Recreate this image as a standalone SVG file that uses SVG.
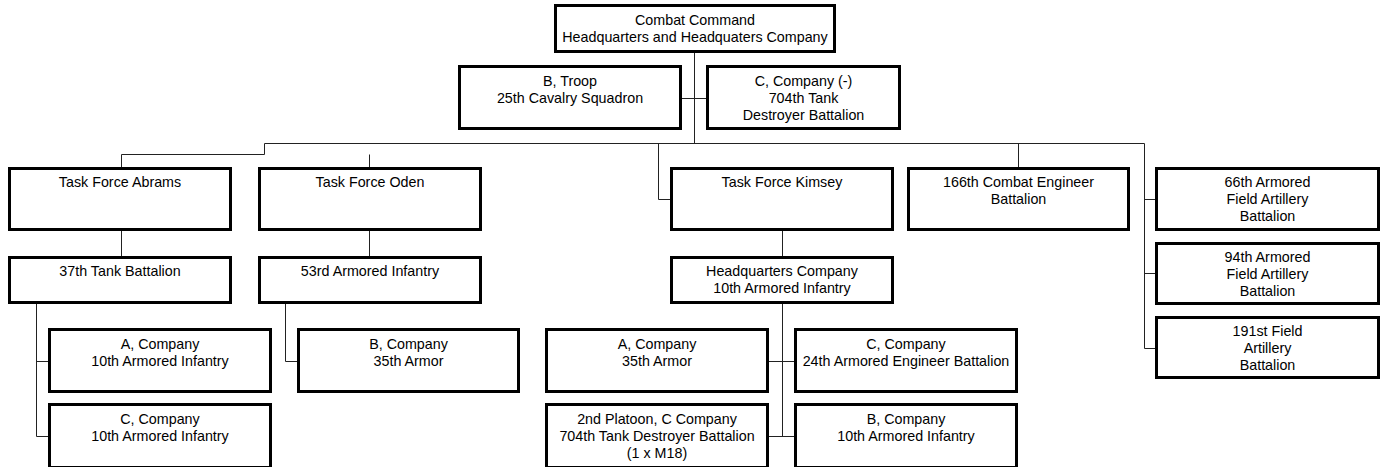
<svg xmlns="http://www.w3.org/2000/svg" width="1384" height="467" viewBox="0 0 1384 467">
<style>
.box{fill:#fff;stroke:#000;stroke-width:3}
.lbl{font-family:"Liberation Sans",Arial,sans-serif;font-size:14.3px;fill:#000;text-anchor:middle}
.con{fill:none;stroke:#222;stroke-width:1}
</style>
<rect width="1384" height="467" fill="#fff"/>
<g id="connectors" class="con">
<path d="M694.5 53V143.5"/>
<path d="M682 98.5H706"/>
<path d="M264.5 143.5H1144.5"/>
<path d="M264.5 143.5V154.5H121.5V167M369.5 154.5V167"/>
<path d="M658.5 143.5V199.5H670"/>
<path d="M1018.5 143.5V167"/>
<path d="M1144.5 143.5V348.5H1155M1144.5 199.5H1155M1144.5 273.5H1155"/>
<path d="M121.5 231V256M369.5 231V256M782.5 231V256"/>
<path d="M36.5 304V436.5H48M36.5 361.5H48"/>
<path d="M285.5 304V361.5H297"/>
<path d="M782.5 304V436.5M769 361.5H794M769 436.5H794"/>
</g>
<g id="n-hq"><rect class="box" x="555.5" y="5.5" width="279" height="46"/><text class="lbl" x="695" y="24.5">Combat Command</text><text class="lbl" x="695" y="41.5">Headquarters and Headquaters Company</text></g>
<g id="n-btroop"><rect class="box" x="459.5" y="66.5" width="221" height="62"/><text class="lbl" x="570" y="85.5">B, Troop</text><text class="lbl" x="570" y="102.5">25th Cavalry Squadron</text></g>
<g id="n-cco704"><rect class="box" x="707.5" y="66.5" width="192" height="62"/><text class="lbl" x="803.5" y="85.5">C, Company (-)</text><text class="lbl" x="803.5" y="102.5">704th Tank</text><text class="lbl" x="803.5" y="119.5">Destroyer Battalion</text></g>
<g id="n-tfabrams"><rect class="box" x="9.5" y="168.5" width="221" height="61"/><text class="lbl" x="120" y="187">Task Force Abrams</text></g>
<g id="n-tfoden"><rect class="box" x="259.5" y="168.5" width="221" height="61"/><text class="lbl" x="370" y="187">Task Force Oden</text></g>
<g id="n-tfkimsey"><rect class="box" x="671.5" y="168.5" width="221" height="61"/><text class="lbl" x="782" y="187">Task Force Kimsey</text></g>
<g id="n-166"><rect class="box" x="908.5" y="168.5" width="220" height="61"/><text class="lbl" x="1018.5" y="187">166th Combat Engineer</text><text class="lbl" x="1018.5" y="204">Battalion</text></g>
<g id="n-66"><rect class="box" x="1156.5" y="168.5" width="222" height="61"/><text class="lbl" x="1267.5" y="187">66th Armored</text><text class="lbl" x="1267.5" y="204.2">Field Artillery</text><text class="lbl" x="1267.5" y="221.4">Battalion</text></g>
<g id="n-94"><rect class="box" x="1156.5" y="243.5" width="222" height="60"/><text class="lbl" x="1267.5" y="262">94th Armored</text><text class="lbl" x="1267.5" y="279.2">Field Artillery</text><text class="lbl" x="1267.5" y="296.4">Battalion</text></g>
<g id="n-191"><rect class="box" x="1156.5" y="317.5" width="222" height="60"/><text class="lbl" x="1267.5" y="336">191st Field</text><text class="lbl" x="1267.5" y="353.2">Artillery</text><text class="lbl" x="1267.5" y="370.4">Battalion</text></g>
<g id="n-37"><rect class="box" x="9.5" y="257.5" width="221" height="45"/><text class="lbl" x="120" y="276">37th Tank Battalion</text></g>
<g id="n-53"><rect class="box" x="259.5" y="257.5" width="221" height="45"/><text class="lbl" x="370" y="276">53rd Armored Infantry</text></g>
<g id="n-hqco"><rect class="box" x="671.5" y="257.5" width="221" height="45"/><text class="lbl" x="782" y="276">Headquarters Company</text><text class="lbl" x="782" y="293.2">10th Armored Infantry</text></g>
<g id="n-aco10"><rect class="box" x="49.5" y="329.5" width="221" height="62"/><text class="lbl" x="160" y="348.5">A, Company</text><text class="lbl" x="160" y="365.7">10th Armored Infantry</text></g>
<g id="n-cco10"><rect class="box" x="49.5" y="404.5" width="221" height="63"/><text class="lbl" x="160" y="423.5">C, Company</text><text class="lbl" x="160" y="440.7">10th Armored Infantry</text></g>
<g id="n-bco35"><rect class="box" x="298.5" y="329.5" width="220" height="62"/><text class="lbl" x="408.5" y="348.5">B, Company</text><text class="lbl" x="408.5" y="365.7">35th Armor</text></g>
<g id="n-aco35"><rect class="box" x="546.5" y="329.5" width="221" height="62"/><text class="lbl" x="657" y="348.5">A, Company</text><text class="lbl" x="657" y="365.7">35th Armor</text></g>
<g id="n-cco24"><rect class="box" x="795.5" y="329.5" width="221" height="62"/><text class="lbl" x="906" y="348.5">C, Company</text><text class="lbl" x="906" y="365.7">24th Armored Engineer Battalion</text></g>
<g id="n-2plt"><rect class="box" x="546.5" y="404.5" width="221" height="63"/><text class="lbl" x="657" y="423.5">2nd Platoon, C Company</text><text class="lbl" x="657" y="440.7">704th Tank Destroyer Battalion</text><text class="lbl" x="657" y="457.9">(1 x M18)</text></g>
<g id="n-bco10"><rect class="box" x="795.5" y="404.5" width="221" height="63"/><text class="lbl" x="906" y="423.5">B, Company</text><text class="lbl" x="906" y="440.7">10th Armored Infantry</text></g>
</svg>
